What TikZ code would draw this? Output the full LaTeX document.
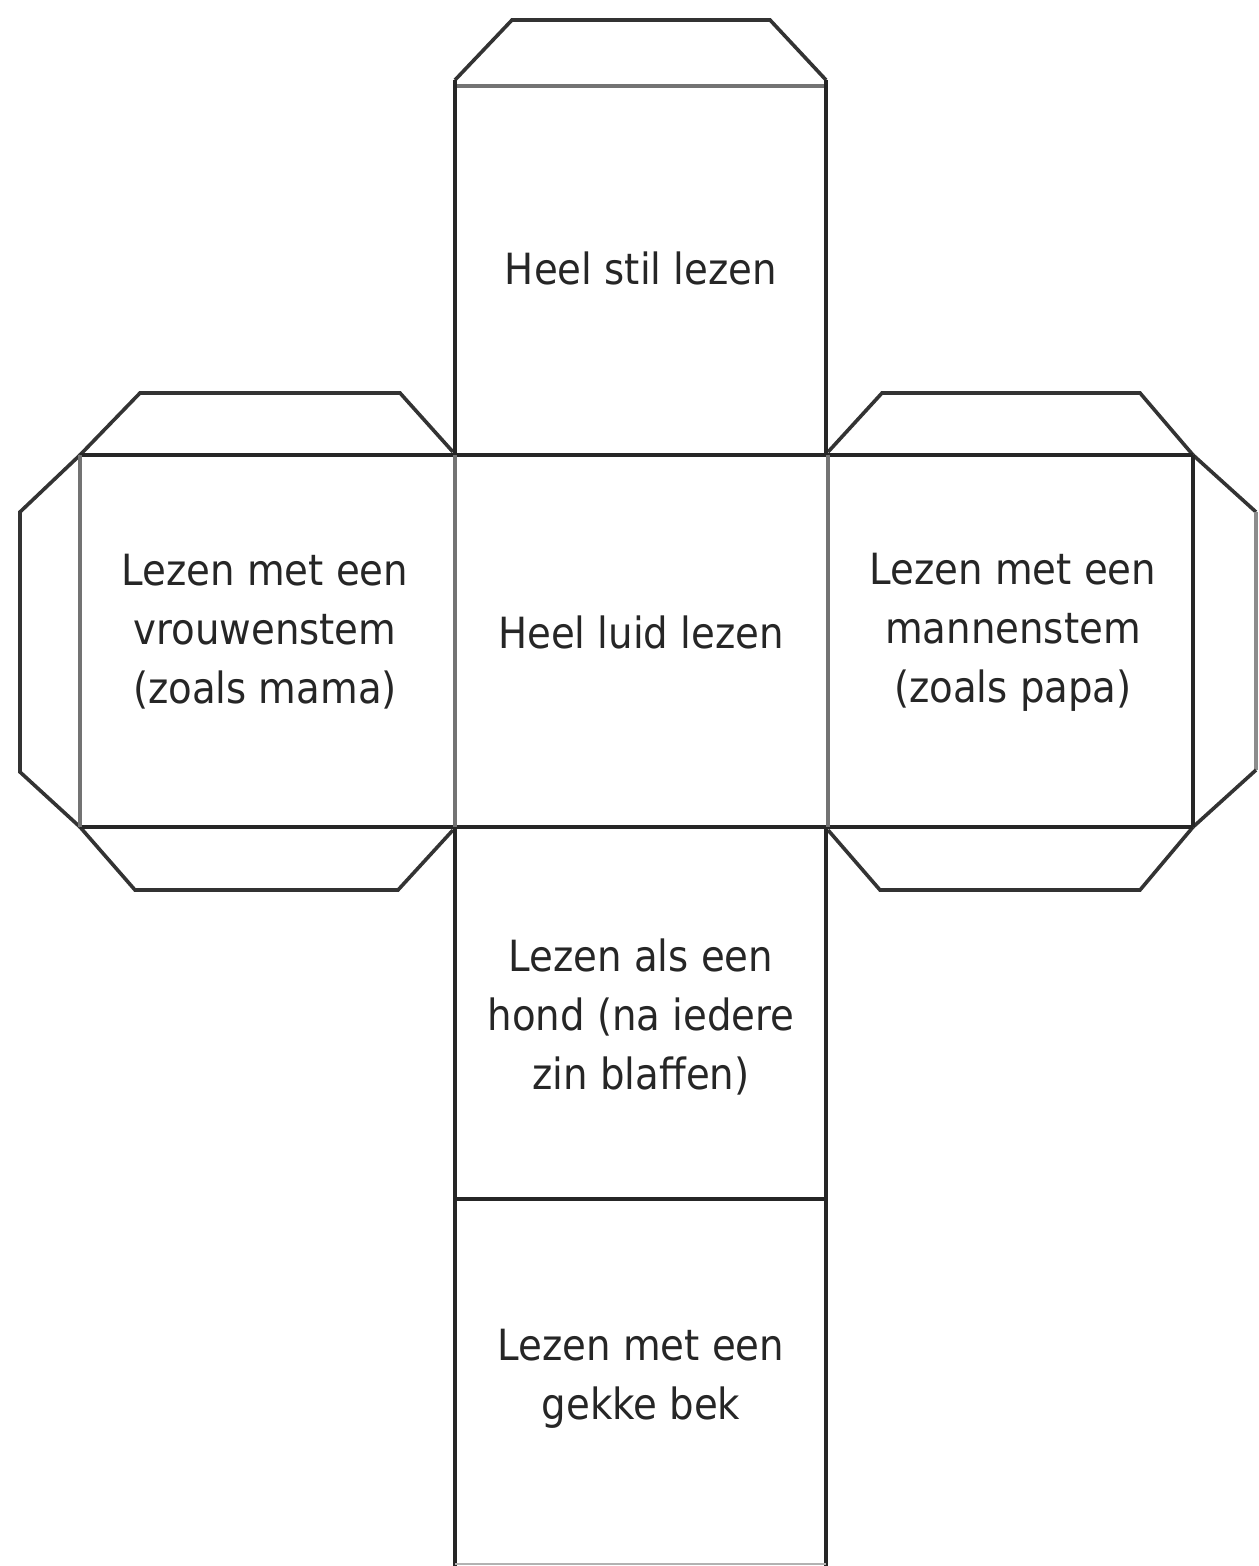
\documentclass[tikz,border=0pt]{standalone}
\usepackage{fontspec}
\setmainfont{DejaVu Sans Condensed}
\begin{document}
\begin{tikzpicture}[x=0.5pt,y=-0.5pt,
  edge/.style={draw=black!85,line width=2.2pt},
  soft/.style={draw=black!55,line width=2.2pt},
  flap/.style={draw=black!80,line width=1.8pt,line join=miter},
  label/.style={font=\fontsize{21.5pt}{29.5pt}\selectfont,align=center,text=black!85,inner sep=0pt}]
\useasboundingbox[fill=white] (0,0) rectangle (1258,1566);
% flaps
\draw[flap] (455,80) -- (512,20) -- (770,20) -- (826,80);
\draw[flap] (80,455) -- (140,393) -- (400,393) -- (453,452);
\draw[flap] (80,455) -- (20,512) -- (20,772) -- (80,827);
\draw[flap] (80,827) -- (135,890) -- (398,890) -- (453,830);
\draw[flap] (828,452) -- (882,393) -- (1140,393) -- (1193,455);
\draw[flap] (1193,455) -- (1256,512);
\draw[flap,draw=black!45] (1256,512) -- (1256,770);
\draw[flap] (1256,770) -- (1193,827);
\draw[flap] (828,830) -- (880,890) -- (1140,890) -- (1193,827);
% faces
\draw[soft] (455,86) -- (826,86);
\draw[edge] (455,80) -- (455,455);
\draw[edge] (826,80) -- (826,455);
\draw[edge] (80,455) -- (1193,455);
\draw[edge] (80,827) -- (1193,827);
\draw[soft] (80,455) -- (80,827);
\draw[soft] (455,455) -- (455,827);
\draw[soft] (828,455) -- (828,827);
\draw[edge] (1193,455) -- (1193,827);
\draw[edge] (455,827) -- (455,1566);
\draw[edge] (826,827) -- (826,1566);
\draw[edge] (455,1199) -- (826,1199);
\draw[draw=black!30,line width=1pt] (455,1564) -- (826,1564);
% texts
\node[label] (top) at (641,268) {Heel stil lezen};
\node[label] (left) at (265,632) {Lezen met een\\vrouwenstem\\(zoals mama)};
\node[label] (mid) at (641,632) {Heel luid lezen};
\node[label] (right) at (1013,632) {Lezen met een\\mannenstem\\(zoals papa)};
\node[label] (dog) at (641,1017) {Lezen als een\\hond (na iedere\\zin blaffen)};
\node[label] (face) at (641,1379) {Lezen met een\\gekke bek};
\end{tikzpicture}
\end{document}
